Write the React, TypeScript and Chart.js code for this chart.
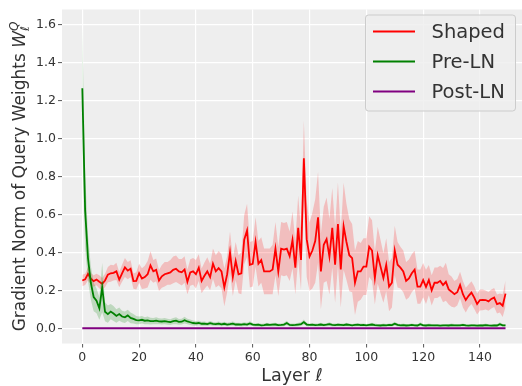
import React, { useEffect, useRef } from "react";
import { Chart, registerables } from "chart.js";

Chart.register(...registerables);

// ---- data ----
const layers = Array.from({ length: 150 }, (_, i) => i);

const xTicks = [0, 20, 40, 60, 80, 100, 120, 140];
const xTickLabels = ["0", "20", "40", "60", "80", "100", "120", "140"];
const yTicks = [0, 0.2, 0.4, 0.6, 0.8, 1.0, 1.2, 1.4, 1.6];
const yTickLabels = ["0.0", "0.2", "0.4", "0.6", "0.8", "1.0", "1.2", "1.4", "1.6"];

const seriesNames = ["Shaped", "Pre-LN", "Post-LN"];

const shapedMean = [
  0.252, 0.258, 0.287, 0.262, 0.249, 0.257, 0.245, 0.235, 0.252, 0.283,
  0.290, 0.292, 0.300, 0.257, 0.290, 0.321, 0.304, 0.314, 0.249, 0.250,
  0.290, 0.262, 0.270, 0.285, 0.331, 0.300, 0.308, 0.252, 0.274, 0.285,
  0.290, 0.295, 0.308, 0.314, 0.300, 0.295, 0.310, 0.245, 0.294, 0.300,
  0.285, 0.320, 0.250, 0.277, 0.300, 0.270, 0.340, 0.300, 0.317, 0.300,
  0.216, 0.285, 0.400, 0.270, 0.355, 0.285, 0.290, 0.467, 0.516, 0.335,
  0.340, 0.455, 0.340, 0.360, 0.300, 0.300, 0.300, 0.310, 0.420, 0.300,
  0.420, 0.415, 0.420, 0.380, 0.465, 0.320, 0.530, 0.360, 0.896, 0.470,
  0.378, 0.410, 0.460, 0.585, 0.300, 0.440, 0.470, 0.378, 0.530, 0.335,
  0.550, 0.310, 0.537, 0.455, 0.385, 0.370, 0.240, 0.300, 0.300, 0.325,
  0.325, 0.430, 0.410, 0.265, 0.385, 0.325, 0.265, 0.335, 0.220, 0.240,
  0.410, 0.335, 0.320, 0.300, 0.250, 0.263, 0.290, 0.309, 0.220, 0.220,
  0.254, 0.218, 0.254, 0.200, 0.240, 0.240, 0.250, 0.228, 0.245, 0.205,
  0.193, 0.180, 0.190, 0.228, 0.180, 0.149, 0.171, 0.188, 0.162, 0.128,
  0.149, 0.150, 0.149, 0.142, 0.155, 0.162, 0.128, 0.133, 0.119, 0.183,
];

const shapedSpread = [
  0.03, 0.03, 0.035, 0.03, 0.03, 0.03, 0.035, 0.03, 0.035,
  0.04, 0.045, 0.04, 0.045, 0.04, 0.045, 0.05, 0.045, 0.045, 0.04, 0.045, 0.05,
  0.055, 0.06, 0.07, 0.075, 0.06, 0.06, 0.055, 0.06, 0.065, 0.06,
  0.065, 0.07, 0.07, 0.065, 0.07, 0.07, 0.065, 0.07, 0.07, 0.075, 0.07, 0.065, 0.07, 0.075, 0.07,
  0.08, 0.085, 0.09, 0.09, 0.1, 0.095, 0.11, 0.1, 0.1, 0.1,
  0.11, 0.13, 0.14, 0.12, 0.12, 0.13, 0.12,
  0.12, 0.12, 0.12, 0.12, 0.13, 0.14, 0.13, 0.14, 0.14, 0.14, 0.13, 0.15, 0.14,
  0.17, 0.16, 0.2,
  0.2, 0.18, 0.2, 0.22, 0.24, 0.2, 0.2, 0.22, 0.2, 0.21, 0.2, 0.22, 0.2, 0.23, 0.2, 0.19, 0.18,
  0.17, 0.16, 0.15, 0.15, 0.15, 0.16, 0.16, 0.14, 0.15, 0.14, 0.13, 0.14, 0.13, 0.13, 0.13,
  0.12, 0.11, 0.11, 0.1, 0.1, 0.1, 0.1, 0.09, 0.09, 0.09,
  0.09, 0.08, 0.08, 0.08, 0.08, 0.08, 0.09, 0.1, 0.08, 0.08, 0.07, 0.07, 0.07, 0.07, 0.065,
  0.06, 0.06, 0.06, 0.055, 0.055, 0.055, 0.05, 0.05, 0.05, 0.05, 0.05, 0.05, 0.06, 0.07,
];

const preLnMean = [
  1.265, 0.620, 0.370, 0.240, 0.165, 0.145, 0.105, 0.215, 0.087, 0.075,
  0.088, 0.078, 0.065, 0.075, 0.062, 0.058, 0.068, 0.055, 0.050, 0.043,
  0.042, 0.045, 0.040, 0.042, 0.038, 0.038, 0.040, 0.037, 0.036, 0.038,
  0.035, 0.033, 0.038, 0.040, 0.034, 0.035, 0.043, 0.036, 0.032, 0.028,
  0.026, 0.028, 0.024, 0.025, 0.022, 0.027, 0.023, 0.022, 0.025, 0.021,
  0.024, 0.020, 0.022, 0.025, 0.020, 0.021, 0.019, 0.022, 0.020, 0.026,
  0.020, 0.018, 0.019, 0.016, 0.017, 0.020, 0.018, 0.019, 0.020, 0.017,
  0.018, 0.020, 0.028, 0.018, 0.017, 0.018, 0.020, 0.022, 0.033, 0.020,
  0.018, 0.019, 0.017, 0.018, 0.020, 0.017, 0.019, 0.022, 0.018, 0.017,
  0.019, 0.018, 0.017, 0.020, 0.018, 0.016, 0.018, 0.019, 0.017, 0.018,
  0.016, 0.018, 0.020, 0.017, 0.016, 0.015, 0.017, 0.016, 0.018, 0.017,
  0.024, 0.018, 0.016, 0.017, 0.015, 0.016, 0.018, 0.016, 0.015, 0.022,
  0.016, 0.015, 0.017, 0.016, 0.015, 0.016, 0.014, 0.015, 0.016, 0.015,
  0.017, 0.016, 0.015, 0.016, 0.018, 0.015, 0.014, 0.016, 0.015, 0.014,
  0.016, 0.015, 0.017, 0.015, 0.014, 0.016, 0.015, 0.022, 0.016, 0.015,
];

const preLnSpread = [
  0.33, 0.2, 0.12, 0.09, 0.075, 0.065, 0.06, 0.13, 0.05, 0.045,
  0.04, 0.04, 0.035, 0.035, 0.03, 0.03, 0.03, 0.028, 0.025, 0.022,
  0.02, 0.02, 0.018, 0.02, 0.018, 0.017, 0.018, 0.016, 0.016, 0.017,
  0.016, 0.015, 0.017, 0.018, 0.015, 0.015, 0.018, 0.015, 0.014, 0.013,
  0.012, 0.012, 0.011, 0.011, 0.01, 0.011, 0.01, 0.01, 0.011, 0.01,
  0.01, 0.009, 0.01, 0.011, 0.009, 0.009, 0.009, 0.01, 0.009, 0.011,
  0.009, 0.008, 0.009, 0.008, 0.008, 0.009, 0.008, 0.009, 0.009, 0.008,
  0.008, 0.009, 0.012, 0.008, 0.008, 0.008, 0.009, 0.01, 0.013, 0.009,
  0.008, 0.008, 0.008, 0.008, 0.009, 0.008, 0.008, 0.01, 0.008, 0.008,
  0.008, 0.008, 0.008, 0.009, 0.008, 0.007, 0.008, 0.008, 0.008, 0.008,
  0.007, 0.008, 0.009, 0.008, 0.007, 0.007, 0.008, 0.007, 0.008, 0.008,
  0.011, 0.008, 0.007, 0.008, 0.007, 0.007, 0.008, 0.007, 0.007, 0.01,
  0.007, 0.007, 0.008, 0.007, 0.007, 0.007, 0.006, 0.007, 0.007, 0.007,
  0.008, 0.007, 0.007, 0.007, 0.008, 0.007, 0.006, 0.007, 0.007, 0.006,
  0.007, 0.007, 0.008, 0.007, 0.006, 0.007, 0.007, 0.01, 0.007, 0.007,
];

const postLnMean = [
  0, 0, 0, 0, 0, 0, 0, 0, 0, 0, 0, 0, 0, 0, 0, 0, 0, 0, 0, 0, 0, 0, 0, 0, 0,
  0, 0, 0, 0, 0, 0, 0, 0, 0, 0, 0, 0, 0, 0, 0, 0, 0, 0, 0, 0, 0, 0, 0, 0, 0,
  0, 0, 0, 0, 0, 0, 0, 0, 0, 0, 0, 0, 0, 0, 0, 0, 0, 0, 0, 0, 0, 0, 0, 0, 0,
  0, 0, 0, 0, 0, 0, 0, 0, 0, 0, 0, 0, 0, 0, 0, 0, 0, 0, 0, 0, 0, 0, 0, 0, 0,
  0, 0, 0, 0, 0, 0, 0, 0, 0, 0, 0, 0, 0, 0, 0, 0, 0, 0, 0, 0, 0, 0, 0, 0, 0,
  0, 0, 0, 0, 0, 0, 0, 0, 0, 0, 0, 0, 0, 0, 0, 0, 0, 0, 0, 0, 0, 0, 0, 0, 0,
];

// ---- styles ----
const FONT = "'DejaVu Sans', sans-serif";
const TEXT = "#333333";
const RED = "#ff0000";
const GREEN = "#008000";
const PURPLE = "#800080";
const W = 522;
const H = 386;

const pts = (ys: number[]) => layers.map((x, i) => ({ x, y: ys[i] }));
const upper = (m: number[], s: number[]) => layers.map((x, i) => ({ x, y: m[i] + s[i] }));
const lower = (m: number[], s: number[]) => layers.map((x, i) => ({ x, y: m[i] - s[i] }));

const bgPlugin = {
  id: "axesBg",
  beforeDraw(chart: any) {
    const { ctx, chartArea: a } = chart;
    ctx.save();
    ctx.fillStyle = "#ffffff";
    ctx.fillRect(0, 0, chart.width, chart.height);
    ctx.fillStyle = "#eeeeee";
    ctx.fillRect(a.left, a.top, a.right - a.left, a.bottom - a.top);
    ctx.restore();
  },
};

const textPlugin = {
  id: "customText",
  afterDraw(chart: any) {
    const { ctx, chartArea: a } = chart;
    ctx.save();
    ctx.fillStyle = TEXT;
    ctx.textBaseline = "alphabetic";

    // x-axis title: "Layer ℓ"
    const xs = 17.5;
    ctx.font = `${xs}px ${FONT}`;
    const p1 = "Layer ";
    const w1 = ctx.measureText(p1).width;
    ctx.font = `italic ${xs}px ${FONT}`;
    const w2 = ctx.measureText("ℓ").width;
    const cx = (a.left + a.right) / 2;
    let x0 = cx - (w1 + w2) / 2;
    ctx.font = `${xs}px ${FONT}`;
    ctx.textAlign = "left";
    ctx.fillText(p1, x0, 381);
    ctx.font = `italic ${xs}px ${FONT}`;
    ctx.fillText("ℓ", x0 + w1, 381);

    // y-axis title
    const fs = 17;
    const small = fs * 0.7;
    const main = "Gradient Norm of Query Weights ";
    ctx.font = `${fs}px ${FONT}`;
    const wm = ctx.measureText(main).width;
    ctx.font = `italic ${fs}px ${FONT}`;
    const wW = ctx.measureText("W").width;
    ctx.font = `italic ${small}px ${FONT}`;
    const wSub = ctx.measureText("ℓ").width;
    const wSup = ctx.measureText("Q").width;
    const total = wm + wW + Math.max(wSub, wSup);
    const cy = (a.top + a.bottom) / 2;
    ctx.translate(25, cy);
    ctx.rotate(-Math.PI / 2);
    let tx = -total / 2;
    ctx.font = `${fs}px ${FONT}`;
    ctx.fillText(main, tx, 0);
    tx += wm;
    ctx.font = `italic ${fs}px ${FONT}`;
    ctx.fillText("W", tx, 0);
    tx += wW;
    ctx.font = `italic ${small}px ${FONT}`;
    ctx.fillText("ℓ", tx, 3.5);
    ctx.fillText("Q", tx, -7.5);
    ctx.restore();

    // legend
    ctx.save();
    const bx = 365.5, by = 15, bw = 150, bh = 96, r = 3;
    ctx.beginPath();
    ctx.moveTo(bx + r, by);
    ctx.lineTo(bx + bw - r, by);
    ctx.arcTo(bx + bw, by, bx + bw, by + r, r);
    ctx.lineTo(bx + bw, by + bh - r);
    ctx.arcTo(bx + bw, by + bh, bx + bw - r, by + bh, r);
    ctx.lineTo(bx + r, by + bh);
    ctx.arcTo(bx, by + bh, bx, by + bh - r, r);
    ctx.lineTo(bx, by + r);
    ctx.arcTo(bx, by, bx + r, by, r);
    ctx.closePath();
    ctx.fillStyle = "rgba(238,238,238,0.8)";
    ctx.fill();
    ctx.strokeStyle = "#cccccc";
    ctx.lineWidth = 1;
    ctx.stroke();
    const colors = [RED, GREEN, PURPLE];
    ctx.font = `19.5px ${FONT}`;
    ctx.textBaseline = "middle";
    ctx.textAlign = "left";
    seriesNames.forEach((name, i) => {
      const yy = 31.5 + i * 30;
      ctx.strokeStyle = colors[i];
      ctx.lineWidth = 2;
      ctx.beginPath();
      ctx.moveTo(373, yy);
      ctx.lineTo(415, yy);
      ctx.stroke();
      ctx.fillStyle = TEXT;
      ctx.fillText(name, 431.5, yy + 1);
    });
    ctx.restore();
  },
};

export default function App() {
  const ref = useRef<HTMLCanvasElement | null>(null);

  useEffect(() => {
    if (!ref.current) return;
    const lineBase = { pointRadius: 0, tension: 0, fill: false as any };
    const chart = new Chart(ref.current, {
      type: "line",
      data: {
        datasets: [
          { ...lineBase, data: upper(shapedMean, shapedSpread), borderWidth: 0, borderColor: "rgba(0,0,0,0)", order: 5 },
          { ...lineBase, data: lower(shapedMean, shapedSpread), borderWidth: 0, borderColor: "rgba(0,0,0,0)", fill: "-1", backgroundColor: "rgba(255,0,0,0.2)", order: 5 },
          { ...lineBase, label: seriesNames[0], data: pts(shapedMean), borderColor: RED, borderWidth: 1.8, order: 4 },
          { ...lineBase, data: upper(preLnMean, preLnSpread), borderWidth: 0, borderColor: "rgba(0,0,0,0)", order: 3 },
          { ...lineBase, data: lower(preLnMean, preLnSpread), borderWidth: 0, borderColor: "rgba(0,0,0,0)", fill: "-1", backgroundColor: "rgba(0,128,0,0.2)", order: 3 },
          { ...lineBase, label: seriesNames[1], data: pts(preLnMean), borderColor: GREEN, borderWidth: 1.8, order: 2 },
          { ...lineBase, label: seriesNames[2], data: pts(postLnMean), borderColor: PURPLE, borderWidth: 2, order: 1 },
        ] as any,
      },
      options: {
        animation: false,
        responsive: false,
        events: [],
        layout: { padding: { top: 4, right: 0, bottom: 0, left: 0 } },
        plugins: { legend: { display: false }, tooltip: { enabled: false }, title: { display: false } },
        scales: {
          x: {
            type: "linear",
            min: -7.15,
            max: 154.8,
            afterFit: (s: any) => { s.height = 42.5; },
            afterBuildTicks: (s: any) => { s.ticks = xTicks.map((v) => ({ value: v })); },
            ticks: {
              color: TEXT,
              font: { family: FONT, size: 12.5 },
              padding: 3,
              maxRotation: 0,
              autoSkip: false,
              callback: (v: any) => xTickLabels[xTicks.indexOf(Number(v))] ?? "",
            },
            grid: { color: "#ffffff", lineWidth: 1.2, tickColor: "#555555", tickLength: 4, tickWidth: 1 },
            border: { display: false },
          },
          y: {
            type: "linear",
            min: -0.08,
            max: 1.68,
            afterFit: (s: any) => { s.width = 62; },
            afterBuildTicks: (s: any) => { s.ticks = yTicks.map((v) => ({ value: v })); },
            ticks: {
              color: TEXT,
              font: { family: FONT, size: 12.5 },
              padding: 2,
              autoSkip: false,
              callback: (v: any) => {
                const i = yTicks.findIndex((t) => Math.abs(t - Number(v)) < 1e-6);
                return i >= 0 ? yTickLabels[i] : "";
              },
            },
            grid: { color: "#ffffff", lineWidth: 1.2, tickColor: "#555555", tickLength: 4, tickWidth: 1 },
            border: { display: false },
          },
        },
      },
      plugins: [bgPlugin, textPlugin],
    } as any);
    return () => chart.destroy();
  }, []);

  return (
    <div style={{ position: "fixed", left: 0, top: 0, width: W, height: H, background: "#fff" }}>
      <canvas ref={ref} width={W} height={H} style={{ width: W, height: H, display: "block" }} />
    </div>
  );
}
